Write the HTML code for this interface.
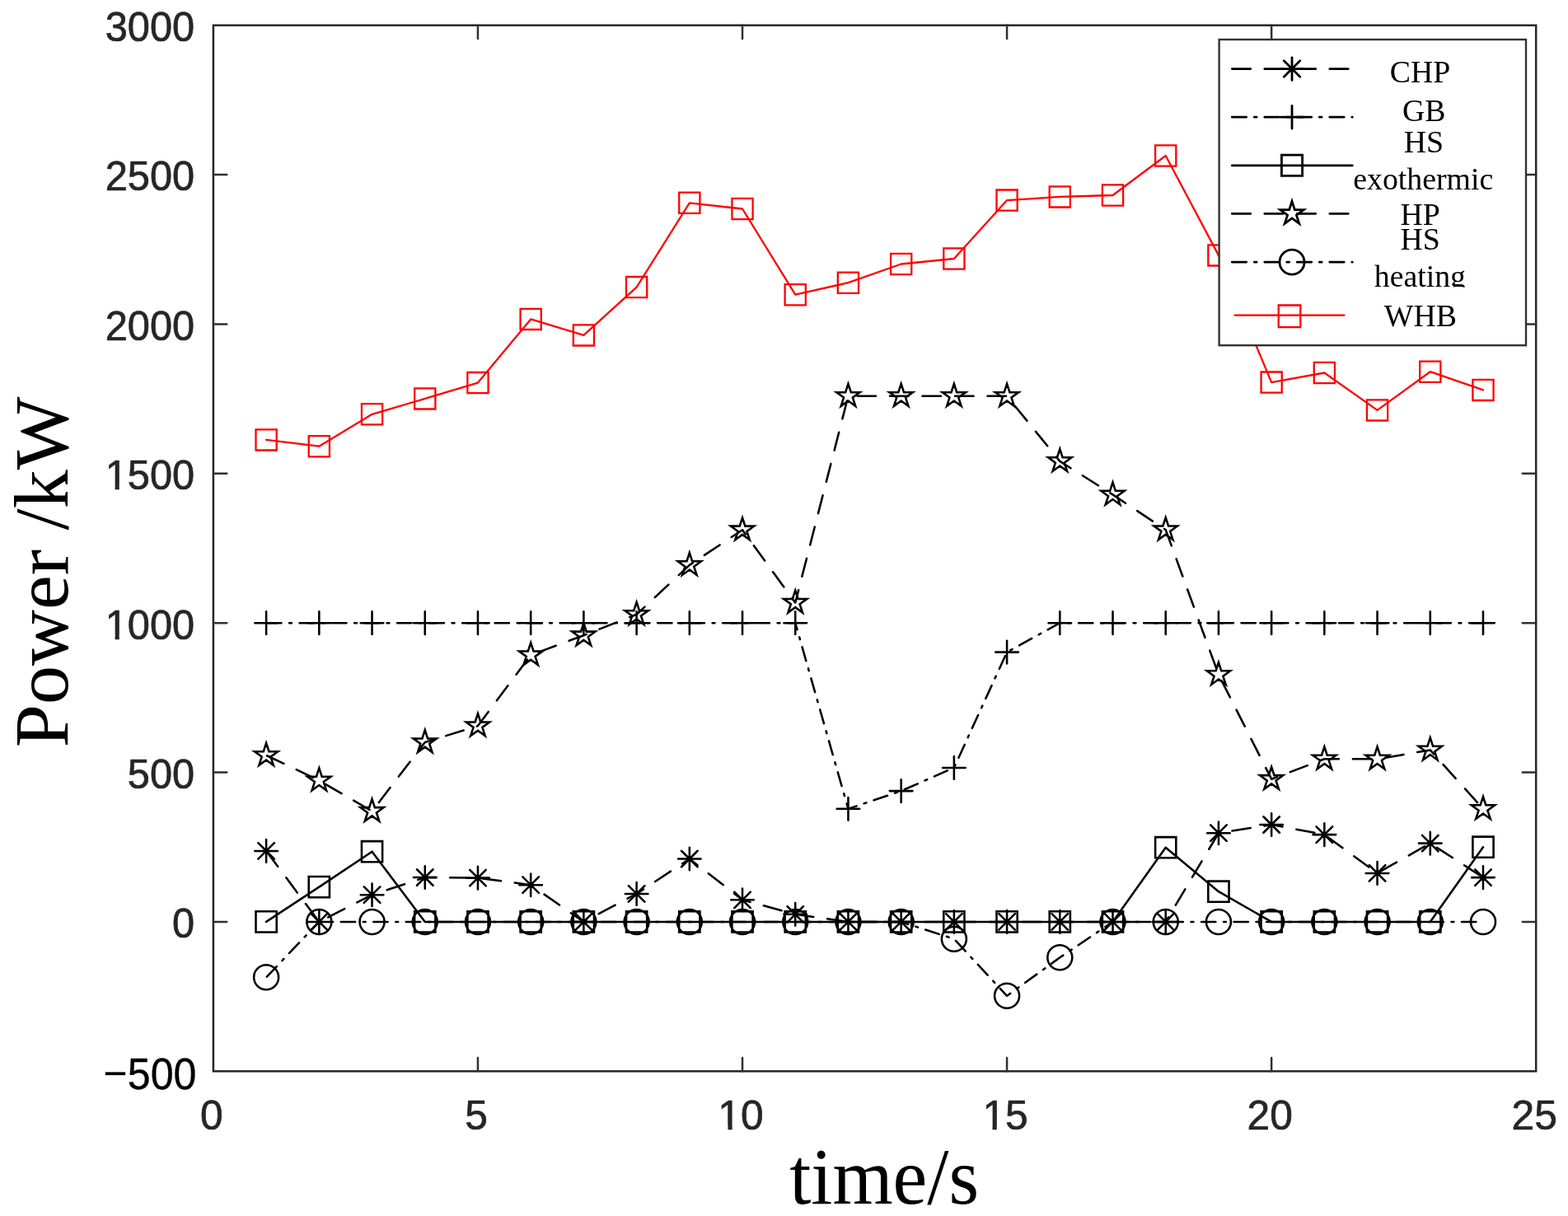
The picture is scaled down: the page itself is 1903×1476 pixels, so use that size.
<!DOCTYPE html>
<html lang="en"><head><meta charset="utf-8"><title>Power /kW vs time/s</title>
<style>html,body{margin:0;padding:0;background:#fff}body{width:1903px;height:1476px;overflow:hidden}svg{display:block}.tk{font-family:"Liberation Sans",sans-serif;font-size:49px;fill:#262626;stroke:#262626;stroke-width:0.7px}.ax{font-family:"Liberation Serif",serif;font-size:94px;fill:#000}.lg{font-family:"Liberation Serif",serif;font-size:37.8px;fill:#000;text-anchor:middle}</style></head><body>
<svg width="1903" height="1476" viewBox="0 0 1903 1476">
<rect x="0" y="0" width="1903" height="1476" fill="#fff"/>
<rect x="258.9" y="30.7" width="1605.3" height="1269.6" fill="none" stroke="#262626" stroke-width="2.5"/>
<path d="M579.96 1300.3v-16.4M579.96 30.7v16.4M901.02 1300.3v-16.4M901.02 30.7v16.4M1222.08 1300.3v-16.4M1222.08 30.7v16.4M1543.14 1300.3v-16.4M1543.14 30.7v16.4M258.9 1118.93h16.4M1864.2 1118.93h-16.4M258.9 937.56h16.4M1864.2 937.56h-16.4M258.9 756.19h16.4M1864.2 756.19h-16.4M258.9 574.81h16.4M1864.2 574.81h-16.4M258.9 393.44h16.4M1864.2 393.44h-16.4M258.9 212.07h16.4M1864.2 212.07h-16.4" fill="none" stroke="#303030" stroke-width="2.5" stroke-linecap="round"/>
<g class="tk" text-anchor="end">
<text transform="translate(236.2 1138.33) scale(0.995 1.005)">0</text>
<text transform="translate(236.2 956.96) scale(0.995 1.005)">500</text>
<text transform="translate(236.2 775.59) scale(0.995 1.005)">1000</text>
<text transform="translate(236.2 594.21) scale(0.995 1.005)">1500</text>
<text transform="translate(236.2 412.84) scale(0.995 1.005)">2000</text>
<text transform="translate(236.2 231.47) scale(0.995 1.005)">2500</text>
<text transform="translate(236.2 50.1) scale(0.995 1.005)">3000</text>
<text transform="translate(238.5 1321.6) scale(1.025 1.08)" style="fill:#000;stroke:#000;stroke-width:0.3px"><tspan style="stroke:none" dy="-0.9">−</tspan><tspan dy="0.9">500</tspan></text>
</g>
<g class="tk" text-anchor="middle">
<text transform="translate(256.9 1371.3) scale(1.015 1.02)">0</text>
<text transform="translate(577.96 1371.3) scale(1.015 1.02)">5</text>
<text transform="translate(899.02 1371.3) scale(1.015 1.02)">10</text>
<text transform="translate(1220.08 1371.3) scale(1.015 1.02)">15</text>
<text transform="translate(1541.14 1371.3) scale(1.015 1.02)">20</text>
<text transform="translate(1862.2 1371.3) scale(1.015 1.02)">25</text>
</g>
<rect x="129.45" y="770.71" width="10.1" height="6.88" fill="#fff"/><rect x="144.76" y="770.71" width="9.72" height="6.88" fill="#fff"/>
<rect x="129.45" y="589.34" width="10.1" height="6.88" fill="#fff"/><rect x="144.76" y="589.34" width="9.72" height="6.88" fill="#fff"/>
<rect x="873.15" y="1366.37" width="10.27" height="6.93" fill="#fff"/><rect x="888.71" y="1366.37" width="9.88" height="6.93" fill="#fff"/>
<rect x="1194.21" y="1366.37" width="10.27" height="6.93" fill="#fff"/><rect x="1209.77" y="1366.37" width="9.88" height="6.93" fill="#fff"/>
<text class="ax" text-anchor="middle" transform="translate(1073.1 1461.2) scale(1 1.04)">time/s</text>
<text class="ax" text-anchor="middle" transform="translate(82.4 694.4) rotate(-90)">Power /kW</text>
<g id="series">
<polyline points="323.11,1032.9 387.32,1118.93 451.54,1086.2 515.75,1065 579.96,1065.6 644.17,1074.2 708.38,1118.93 772.6,1084.9 836.81,1042.5 901.02,1092.3 965.23,1109.8 1029.44,1118.93 1093.66,1118.93 1157.87,1118.93 1222.08,1118.93 1286.29,1118.93 1350.5,1118.93 1414.72,1118.93 1478.93,1011.2 1543.14,1001 1607.35,1013.1 1671.56,1059.9 1735.78,1023.6 1799.99,1065.1" fill="none" stroke="#000" stroke-width="2.55" stroke-linecap="round" stroke-linejoin="round" stroke-dasharray="22.5 17" stroke-dashoffset="-1"/>
<path d="M309.31 1032.9H336.91M323.11 1019.1V1046.7M313.35 1023.14L332.87 1042.66M313.35 1042.66L332.87 1023.14M373.52 1118.93H401.12M387.32 1105.13V1132.73M377.57 1109.17L397.08 1128.69M377.57 1128.69L397.08 1109.17M437.74 1086.2H465.34M451.54 1072.4V1100M441.78 1076.44L461.29 1095.96M441.78 1095.96L461.29 1076.44M501.95 1065H529.55M515.75 1051.2V1078.8M505.99 1055.24L525.51 1074.76M505.99 1074.76L525.51 1055.24M566.16 1065.6H593.76M579.96 1051.8V1079.4M570.2 1055.84L589.72 1075.36M570.2 1075.36L589.72 1055.84M630.37 1074.2H657.97M644.17 1060.4V1088M634.41 1064.44L653.93 1083.96M634.41 1083.96L653.93 1064.44M694.58 1118.93H722.18M708.38 1105.13V1132.73M698.63 1109.17L718.14 1128.69M698.63 1128.69L718.14 1109.17M758.8 1084.9H786.4M772.6 1071.1V1098.7M762.84 1075.14L782.35 1094.66M762.84 1094.66L782.35 1075.14M823.01 1042.5H850.61M836.81 1028.7V1056.3M827.05 1032.74L846.57 1052.26M827.05 1052.26L846.57 1032.74M887.22 1092.3H914.82M901.02 1078.5V1106.1M891.26 1082.54L910.78 1102.06M891.26 1102.06L910.78 1082.54M951.43 1109.8H979.03M965.23 1096V1123.6M955.47 1100.04L974.99 1119.56M955.47 1119.56L974.99 1100.04M1015.64 1118.93H1043.24M1029.44 1105.13V1132.73M1019.69 1109.17L1039.2 1128.69M1019.69 1128.69L1039.2 1109.17M1079.86 1118.93H1107.46M1093.66 1105.13V1132.73M1083.9 1109.17L1103.41 1128.69M1083.9 1128.69L1103.41 1109.17M1144.07 1118.93H1171.67M1157.87 1105.13V1132.73M1148.11 1109.17L1167.63 1128.69M1148.11 1128.69L1167.63 1109.17M1208.28 1118.93H1235.88M1222.08 1105.13V1132.73M1212.32 1109.17L1231.84 1128.69M1212.32 1128.69L1231.84 1109.17M1272.49 1118.93H1300.09M1286.29 1105.13V1132.73M1276.53 1109.17L1296.05 1128.69M1276.53 1128.69L1296.05 1109.17M1336.7 1118.93H1364.3M1350.5 1105.13V1132.73M1340.75 1109.17L1360.26 1128.69M1340.75 1128.69L1360.26 1109.17M1400.92 1118.93H1428.52M1414.72 1105.13V1132.73M1404.96 1109.17L1424.47 1128.69M1404.96 1128.69L1424.47 1109.17M1465.13 1011.2H1492.73M1478.93 997.4V1025M1469.17 1001.44L1488.69 1020.96M1469.17 1020.96L1488.69 1001.44M1529.34 1001H1556.94M1543.14 987.2V1014.8M1533.38 991.24L1552.9 1010.76M1533.38 1010.76L1552.9 991.24M1593.55 1013.1H1621.15M1607.35 999.3V1026.9M1597.59 1003.34L1617.11 1022.86M1597.59 1022.86L1617.11 1003.34M1657.76 1059.9H1685.36M1671.56 1046.1V1073.7M1661.81 1050.14L1681.32 1069.66M1661.81 1069.66L1681.32 1050.14M1721.98 1023.6H1749.58M1735.78 1009.8V1037.4M1726.02 1013.84L1745.53 1033.36M1726.02 1033.36L1745.53 1013.84M1786.19 1065.1H1813.79M1799.99 1051.3V1078.9M1790.23 1055.34L1809.75 1074.86M1790.23 1074.86L1809.75 1055.34" fill="none" stroke="#000" stroke-width="2.55" stroke-linecap="round" stroke-linejoin="miter"/>
<polyline points="323.11,756.19 387.32,756.19 451.54,756.19 515.75,756.19 579.96,756.19 644.17,756.19 708.38,756.19 772.6,756.19 836.81,756.19 901.02,756.19 965.23,756.19 1029.44,981.8 1093.66,960.1 1157.87,931.9 1222.08,791.6 1286.29,756.19 1350.5,756.19 1414.72,756.19 1478.93,756.19 1543.14,756.19 1607.35,756.19 1671.56,756.19 1735.78,756.19 1799.99,756.19" fill="none" stroke="#000" stroke-width="2.55" stroke-linecap="round" stroke-linejoin="round" stroke-dasharray="17.35 9.65 2.85 9.65" stroke-dashoffset="-1"/>
<path d="M309.31 756.19H336.91M323.11 742.39V769.99M373.52 756.19H401.12M387.32 742.39V769.99M437.74 756.19H465.34M451.54 742.39V769.99M501.95 756.19H529.55M515.75 742.39V769.99M566.16 756.19H593.76M579.96 742.39V769.99M630.37 756.19H657.97M644.17 742.39V769.99M694.58 756.19H722.18M708.38 742.39V769.99M758.8 756.19H786.4M772.6 742.39V769.99M823.01 756.19H850.61M836.81 742.39V769.99M887.22 756.19H914.82M901.02 742.39V769.99M951.43 756.19H979.03M965.23 742.39V769.99M1015.64 981.8H1043.24M1029.44 968V995.6M1079.86 960.1H1107.46M1093.66 946.3V973.9M1144.07 931.9H1171.67M1157.87 918.1V945.7M1208.28 791.6H1235.88M1222.08 777.8V805.4M1272.49 756.19H1300.09M1286.29 742.39V769.99M1336.7 756.19H1364.3M1350.5 742.39V769.99M1400.92 756.19H1428.52M1414.72 742.39V769.99M1465.13 756.19H1492.73M1478.93 742.39V769.99M1529.34 756.19H1556.94M1543.14 742.39V769.99M1593.55 756.19H1621.15M1607.35 742.39V769.99M1657.76 756.19H1685.36M1671.56 742.39V769.99M1721.98 756.19H1749.58M1735.78 742.39V769.99M1786.19 756.19H1813.79M1799.99 742.39V769.99" fill="none" stroke="#000" stroke-width="2.55" stroke-linecap="round" stroke-linejoin="miter"/>
<polyline points="323.11,1118.93 387.32,1076.6 451.54,1033.7 515.75,1118.93 579.96,1118.93 644.17,1118.93 708.38,1118.93 772.6,1118.93 836.81,1118.93 901.02,1118.93 965.23,1118.93 1029.44,1118.93 1093.66,1118.93 1157.87,1118.93 1222.08,1118.93 1286.29,1118.93 1350.5,1118.93 1414.72,1028.7 1478.93,1082.2 1543.14,1118.93 1607.35,1118.93 1671.56,1118.93 1735.78,1118.93 1799.99,1028.2" fill="none" stroke="#000" stroke-width="2.55" stroke-linecap="round" stroke-linejoin="round"/>
<path d="M310.51 1106.33h25.2v25.2h-25.2zM374.72 1064h25.2v25.2h-25.2zM438.94 1021.1h25.2v25.2h-25.2zM503.15 1106.33h25.2v25.2h-25.2zM567.36 1106.33h25.2v25.2h-25.2zM631.57 1106.33h25.2v25.2h-25.2zM695.78 1106.33h25.2v25.2h-25.2zM760 1106.33h25.2v25.2h-25.2zM824.21 1106.33h25.2v25.2h-25.2zM888.42 1106.33h25.2v25.2h-25.2zM952.63 1106.33h25.2v25.2h-25.2zM1016.84 1106.33h25.2v25.2h-25.2zM1081.06 1106.33h25.2v25.2h-25.2zM1145.27 1106.33h25.2v25.2h-25.2zM1209.48 1106.33h25.2v25.2h-25.2zM1273.69 1106.33h25.2v25.2h-25.2zM1337.9 1106.33h25.2v25.2h-25.2zM1402.12 1016.1h25.2v25.2h-25.2zM1466.33 1069.6h25.2v25.2h-25.2zM1530.54 1106.33h25.2v25.2h-25.2zM1594.75 1106.33h25.2v25.2h-25.2zM1658.96 1106.33h25.2v25.2h-25.2zM1723.18 1106.33h25.2v25.2h-25.2zM1787.39 1015.6h25.2v25.2h-25.2z" fill="none" stroke="#000" stroke-width="2.55" stroke-linecap="butt" stroke-linejoin="miter"/>
<polyline points="323.11,916.8 387.32,947.3 451.54,984.7 515.75,901 579.96,881.1 644.17,795.1 708.38,771.2 772.6,745.8 836.81,685.9 901.02,643.2 965.23,731.5 1029.44,480.8 1093.66,480.8 1157.87,480.8 1222.08,480.8 1286.29,559.9 1350.5,600.4 1414.72,643.1 1478.93,818.9 1543.14,945.7 1607.35,921.3 1671.56,921.3 1735.78,910.4 1799.99,981.9" fill="none" stroke="#000" stroke-width="2.55" stroke-linecap="round" stroke-linejoin="round" stroke-dasharray="22.5 17" stroke-dashoffset="-1"/>
<path d="M323.11 901.9L326.46 912.2L337.28 912.2L328.53 918.56L331.87 928.85L323.11 922.49L314.35 928.85L317.7 918.56L308.94 912.2L319.77 912.2zM387.32 932.4L390.67 942.7L401.49 942.7L392.74 949.06L396.08 959.35L387.32 952.99L378.57 959.35L381.91 949.06L373.15 942.7L383.98 942.7zM451.54 969.8L454.88 980.1L465.71 980.1L456.95 986.46L460.29 996.75L451.54 990.39L442.78 996.75L446.12 986.46L437.37 980.1L448.19 980.1zM515.75 886.1L519.09 896.4L529.92 896.4L521.16 902.76L524.51 913.05L515.75 906.69L506.99 913.05L510.33 902.76L501.58 896.4L512.4 896.4zM579.96 866.2L583.31 876.5L594.13 876.5L585.37 882.86L588.72 893.15L579.96 886.79L571.2 893.15L574.55 882.86L565.79 876.5L576.61 876.5zM644.17 780.2L647.52 790.5L658.34 790.5L649.59 796.86L652.93 807.15L644.17 800.79L635.41 807.15L638.76 796.86L630 790.5L640.83 790.5zM708.38 756.3L711.73 766.6L722.55 766.6L713.8 772.96L717.14 783.25L708.38 776.89L699.63 783.25L702.97 772.96L694.21 766.6L705.04 766.6zM772.6 730.9L775.94 741.2L786.77 741.2L778.01 747.56L781.35 757.85L772.6 751.49L763.84 757.85L767.18 747.56L758.43 741.2L769.25 741.2zM836.81 671L840.15 681.3L850.98 681.3L842.22 687.66L845.57 697.95L836.81 691.59L828.05 697.95L831.39 687.66L822.64 681.3L833.46 681.3zM901.02 628.3L904.37 638.6L915.19 638.6L906.43 644.96L909.78 655.25L901.02 648.89L892.26 655.25L895.61 644.96L886.85 638.6L897.67 638.6zM965.23 716.6L968.58 726.9L979.4 726.9L970.65 733.26L973.99 743.55L965.23 737.19L956.47 743.55L959.82 733.26L951.06 726.9L961.89 726.9zM1029.44 465.9L1032.79 476.2L1043.61 476.2L1034.86 482.56L1038.2 492.85L1029.44 486.49L1020.69 492.85L1024.03 482.56L1015.27 476.2L1026.1 476.2zM1093.66 465.9L1097 476.2L1107.83 476.2L1099.07 482.56L1102.41 492.85L1093.66 486.49L1084.9 492.85L1088.24 482.56L1079.49 476.2L1090.31 476.2zM1157.87 465.9L1161.21 476.2L1172.04 476.2L1163.28 482.56L1166.63 492.85L1157.87 486.49L1149.11 492.85L1152.45 482.56L1143.7 476.2L1154.52 476.2zM1222.08 465.9L1225.43 476.2L1236.25 476.2L1227.49 482.56L1230.84 492.85L1222.08 486.49L1213.32 492.85L1216.67 482.56L1207.91 476.2L1218.73 476.2zM1286.29 545L1289.64 555.3L1300.46 555.3L1291.71 561.66L1295.05 571.95L1286.29 565.59L1277.53 571.95L1280.88 561.66L1272.12 555.3L1282.95 555.3zM1350.5 585.5L1353.85 595.8L1364.67 595.8L1355.92 602.16L1359.26 612.45L1350.5 606.09L1341.75 612.45L1345.09 602.16L1336.33 595.8L1347.16 595.8zM1414.72 628.2L1418.06 638.5L1428.89 638.5L1420.13 644.86L1423.47 655.15L1414.72 648.79L1405.96 655.15L1409.3 644.86L1400.55 638.5L1411.37 638.5zM1478.93 804L1482.27 814.3L1493.1 814.3L1484.34 820.66L1487.69 830.95L1478.93 824.59L1470.17 830.95L1473.51 820.66L1464.76 814.3L1475.58 814.3zM1543.14 930.8L1546.49 941.1L1557.31 941.1L1548.55 947.46L1551.9 957.75L1543.14 951.39L1534.38 957.75L1537.73 947.46L1528.97 941.1L1539.79 941.1zM1607.35 906.4L1610.7 916.7L1621.52 916.7L1612.77 923.06L1616.11 933.35L1607.35 926.99L1598.59 933.35L1601.94 923.06L1593.18 916.7L1604.01 916.7zM1671.56 906.4L1674.91 916.7L1685.73 916.7L1676.98 923.06L1680.32 933.35L1671.56 926.99L1662.81 933.35L1666.15 923.06L1657.39 916.7L1668.22 916.7zM1735.78 895.5L1739.12 905.8L1749.95 905.8L1741.19 912.16L1744.53 922.45L1735.78 916.09L1727.02 922.45L1730.36 912.16L1721.61 905.8L1732.43 905.8zM1799.99 967L1803.33 977.3L1814.16 977.3L1805.4 983.66L1808.75 993.95L1799.99 987.59L1791.23 993.95L1794.57 983.66L1785.82 977.3L1796.64 977.3z" fill="none" stroke="#000" stroke-width="2.55" stroke-linecap="butt" stroke-linejoin="miter"/>
<polyline points="323.11,1186.3 387.32,1118.93 451.54,1118.93 515.75,1118.93 579.96,1118.93 644.17,1118.93 708.38,1118.93 772.6,1118.93 836.81,1118.93 901.02,1118.93 965.23,1118.93 1029.44,1118.93 1093.66,1118.93 1157.87,1139.7 1222.08,1208.8 1286.29,1162.3 1350.5,1118.93 1414.72,1118.93 1478.93,1118.93 1543.14,1118.93 1607.35,1118.93 1671.56,1118.93 1735.78,1118.93 1799.99,1118.93" fill="none" stroke="#000" stroke-width="2.55" stroke-linecap="round" stroke-linejoin="round" stroke-dasharray="17.35 9.65 2.85 9.65" stroke-dashoffset="-1"/>
<path d="M308.11 1186.3a15 15 0 1 0 30 0a15 15 0 1 0 -30 0zM372.32 1118.93a15 15 0 1 0 30 0a15 15 0 1 0 -30 0zM436.54 1118.93a15 15 0 1 0 30 0a15 15 0 1 0 -30 0zM500.75 1118.93a15 15 0 1 0 30 0a15 15 0 1 0 -30 0zM564.96 1118.93a15 15 0 1 0 30 0a15 15 0 1 0 -30 0zM629.17 1118.93a15 15 0 1 0 30 0a15 15 0 1 0 -30 0zM693.38 1118.93a15 15 0 1 0 30 0a15 15 0 1 0 -30 0zM757.6 1118.93a15 15 0 1 0 30 0a15 15 0 1 0 -30 0zM821.81 1118.93a15 15 0 1 0 30 0a15 15 0 1 0 -30 0zM886.02 1118.93a15 15 0 1 0 30 0a15 15 0 1 0 -30 0zM950.23 1118.93a15 15 0 1 0 30 0a15 15 0 1 0 -30 0zM1014.44 1118.93a15 15 0 1 0 30 0a15 15 0 1 0 -30 0zM1078.66 1118.93a15 15 0 1 0 30 0a15 15 0 1 0 -30 0zM1142.87 1139.7a15 15 0 1 0 30 0a15 15 0 1 0 -30 0zM1207.08 1208.8a15 15 0 1 0 30 0a15 15 0 1 0 -30 0zM1271.29 1162.3a15 15 0 1 0 30 0a15 15 0 1 0 -30 0zM1335.5 1118.93a15 15 0 1 0 30 0a15 15 0 1 0 -30 0zM1399.72 1118.93a15 15 0 1 0 30 0a15 15 0 1 0 -30 0zM1463.93 1118.93a15 15 0 1 0 30 0a15 15 0 1 0 -30 0zM1528.14 1118.93a15 15 0 1 0 30 0a15 15 0 1 0 -30 0zM1592.35 1118.93a15 15 0 1 0 30 0a15 15 0 1 0 -30 0zM1656.56 1118.93a15 15 0 1 0 30 0a15 15 0 1 0 -30 0zM1720.78 1118.93a15 15 0 1 0 30 0a15 15 0 1 0 -30 0zM1784.99 1118.93a15 15 0 1 0 30 0a15 15 0 1 0 -30 0z" fill="none" stroke="#000" stroke-width="2.55" stroke-linecap="butt" stroke-linejoin="miter"/>
<polyline points="323.11,533.9 387.32,541.7 451.54,502.8 515.75,483.9 579.96,464.6 644.17,387.4 708.38,406.9 772.6,348.6 836.81,246.3 901.02,253.5 965.23,357.7 1029.44,343.2 1093.66,320.5 1157.87,314 1222.08,243.1 1286.29,238.9 1350.5,237 1414.72,189 1478.93,309.9 1543.14,464.1 1607.35,452.5 1671.56,497.9 1735.78,451.2 1799.99,473.4" fill="none" stroke="#f00" stroke-width="2.3" stroke-linecap="round" stroke-linejoin="round"/>
<path d="M310.51 521.3h25.2v25.2h-25.2zM374.72 529.1h25.2v25.2h-25.2zM438.94 490.2h25.2v25.2h-25.2zM503.15 471.3h25.2v25.2h-25.2zM567.36 452h25.2v25.2h-25.2zM631.57 374.8h25.2v25.2h-25.2zM695.78 394.3h25.2v25.2h-25.2zM760 336h25.2v25.2h-25.2zM824.21 233.7h25.2v25.2h-25.2zM888.42 240.9h25.2v25.2h-25.2zM952.63 345.1h25.2v25.2h-25.2zM1016.84 330.6h25.2v25.2h-25.2zM1081.06 307.9h25.2v25.2h-25.2zM1145.27 301.4h25.2v25.2h-25.2zM1209.48 230.5h25.2v25.2h-25.2zM1273.69 226.3h25.2v25.2h-25.2zM1337.9 224.4h25.2v25.2h-25.2zM1402.12 176.4h25.2v25.2h-25.2zM1466.33 297.3h25.2v25.2h-25.2zM1530.54 451.5h25.2v25.2h-25.2zM1594.75 439.9h25.2v25.2h-25.2zM1658.96 485.3h25.2v25.2h-25.2zM1723.18 438.6h25.2v25.2h-25.2zM1787.39 460.8h25.2v25.2h-25.2z" fill="none" stroke="#f00" stroke-width="2.3" stroke-linecap="butt" stroke-linejoin="miter"/>
</g>
<g id="legend">
<rect x="1479.6" y="48" width="372.4" height="371.2" fill="#fff" stroke="#333" stroke-width="2.4"/>
<path d="M1495.3 83.6H1641.3" fill="none" stroke="#000" stroke-width="2.8" stroke-linecap="round" stroke-dasharray="22.5 17"/>
<path d="M1554.2 83.6H1581.8M1568 69.8V97.4M1558.24 73.84L1577.76 93.36M1558.24 93.36L1577.76 73.84" fill="none" stroke="#000" stroke-width="2.8" stroke-linecap="round" stroke-linejoin="miter"/>
<path d="M1495.3 142.2H1641.3" fill="none" stroke="#000" stroke-width="2.8" stroke-linecap="round" stroke-dasharray="17.35 9.65 2.85 9.65"/>
<path d="M1554.2 142.2H1581.8M1568 128.4V156" fill="none" stroke="#000" stroke-width="2.8" stroke-linecap="round" stroke-linejoin="miter"/>
<path d="M1495.3 200.8H1641.3" fill="none" stroke="#000" stroke-width="2.8" stroke-linecap="round"/>
<path d="M1555.4 188.2h25.2v25.2h-25.2z" fill="none" stroke="#000" stroke-width="2.8" stroke-linecap="butt" stroke-linejoin="miter"/>
<path d="M1495.3 259.3H1641.3" fill="none" stroke="#000" stroke-width="2.8" stroke-linecap="round" stroke-dasharray="22.5 17"/>
<path d="M1568 244.4L1571.35 254.7L1582.17 254.7L1573.41 261.06L1576.76 271.35L1568 264.99L1559.24 271.35L1562.59 261.06L1553.83 254.7L1564.65 254.7z" fill="none" stroke="#000" stroke-width="2.8" stroke-linecap="butt" stroke-linejoin="miter"/>
<path d="M1495.3 318.2H1641.3" fill="none" stroke="#000" stroke-width="2.8" stroke-linecap="round" stroke-dasharray="17.35 9.65 2.85 9.65"/>
<path d="M1553 318.2a15 15 0 1 0 30 0a15 15 0 1 0 -30 0z" fill="none" stroke="#000" stroke-width="2.8" stroke-linecap="butt" stroke-linejoin="miter"/>
<path d="M1498.5 382.6H1631.5" fill="none" stroke="#f00" stroke-width="2.3" stroke-linecap="round"/>
<path d="M1551.7 370.5h26.6v26.6h-26.6z" fill="none" stroke="#f00" stroke-width="2.3" stroke-linecap="butt" stroke-linejoin="miter"/>
<clipPath id="lc"><rect x="1482" y="50" width="368" height="298.6"/></clipPath>
<g class="lg" clip-path="url(#lc)">
<text x="1723.5" y="99.7">CHP</text>
<text x="1728.2" y="147">GB</text>
<text x="1728" y="185.3">HS</text>
<text x="1727.3" y="230.2">exothermic</text>
<text x="1723.6" y="272.6">HP</text>
<text x="1723.6" y="303.4">HS</text>
<text x="1723.4" y="347.7">heating</text>
</g>
<text class="lg" x="1723.8" y="395.5">WHB</text>
</g>
</svg></body></html>
